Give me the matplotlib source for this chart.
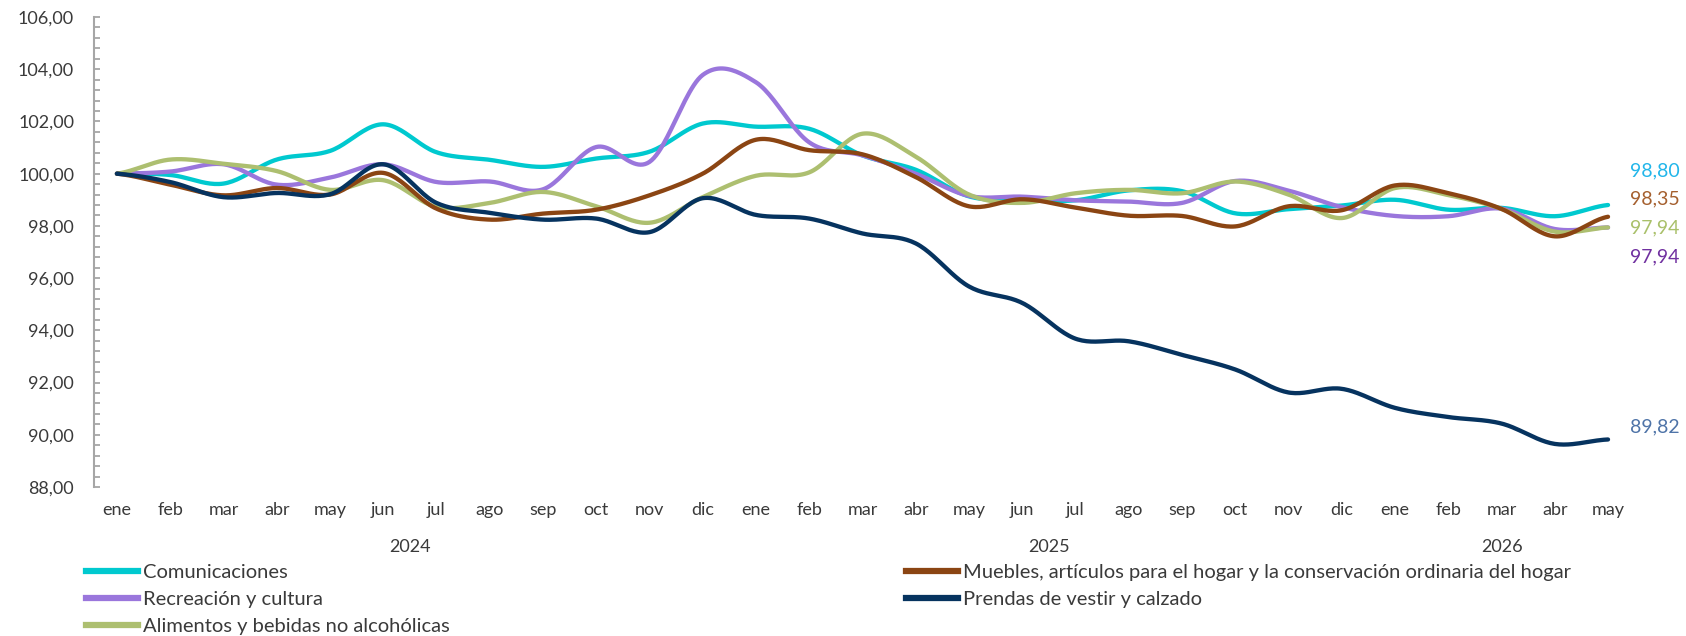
import numpy as np
import matplotlib.pyplot as plt
from matplotlib.lines import Line2D

plt.rcParams["font.family"] = ["Lato", "DejaVu Sans"]

# Categories
months = ["ene", "feb", "mar", "abr", "may", "jun", "jul", "ago", "sep", "oct", "nov", "dic",
          "ene", "feb", "mar", "abr", "may", "jun", "jul", "ago", "sep", "oct", "nov", "dic",
          "ene", "feb", "mar", "abr", "may"]
years = ["2024", "2025", "2026"]
months_per_year = [12, 12, 5]

# Series (index, ene 2024 = 100)
comunicaciones = [100.00, 99.95, 99.62, 100.54, 100.87, 101.89, 100.82, 100.53, 100.26, 100.58,
                  100.84, 101.92, 101.80, 101.72, 100.70, 100.15, 99.13, 99.00, 98.98, 99.36,
                  99.33, 98.48, 98.64, 98.78, 99.00, 98.62, 98.69, 98.37, 98.80]
recreacion = [100.00, 100.08, 100.36, 99.58, 99.85, 100.36, 99.68, 99.70, 99.40, 101.02,
              100.45, 103.78, 103.50, 101.20, 100.70, 100.00, 99.15, 99.12, 98.98, 98.93,
              98.88, 99.72, 99.35, 98.72, 98.38, 98.37, 98.66, 97.88, 97.94]
alimentos = [100.00, 100.54, 100.38, 100.10, 99.38, 99.75, 98.73, 98.88, 99.30, 98.75,
             98.12, 99.10, 99.92, 100.05, 101.53, 100.65, 99.20, 98.88, 99.25, 99.38,
             99.25, 99.70, 99.20, 98.30, 99.45, 99.18, 98.65, 97.78, 97.94]
muebles = [100.00, 99.58, 99.17, 99.45, 99.20, 100.03, 98.66, 98.24, 98.47, 98.62,
           99.17, 100.00, 101.30, 100.90, 100.74, 99.87, 98.75, 99.02, 98.70, 98.39,
           98.38, 97.98, 98.75, 98.60, 99.55, 99.25, 98.65, 97.60, 98.35]
prendas = [100.00, 99.68, 99.10, 99.26, 99.21, 100.36, 98.88, 98.50, 98.24, 98.28,
           97.76, 99.06, 98.42, 98.28, 97.71, 97.33, 95.68, 95.05, 93.68, 93.58,
           93.06, 92.50, 91.62, 91.76, 91.03, 90.68, 90.43, 89.65, 89.82]

names = ["Comunicaciones", "Recreación y cultura", "Alimentos y bebidas no alcohólicas",
         "Muebles, artículos para el hogar y la conservación ordinaria del hogar",
         "Prendas de vestir y calzado"]
series = [comunicaciones, recreacion, alimentos, muebles, prendas]
line_colors = ["#00C9CF", "#9A76DC", "#ADBF70", "#8B4513", "#06335F"]
label_colors = ["#22B6EA", "#7030A0", "#A9C06A", "#A5602F", "#4F74A8"]
label_dy = [1.31, -1.14, 0.0, 0.70, 0.50]   # end-label vertical shift (avoid overlap)


def smooth(y, n=24):
    # Excel-style smoothed line (Catmull-Rom / cubic Hermite)
    y = np.asarray(y, float)
    m = np.empty_like(y)
    m[1:-1] = (y[2:] - y[:-2]) / 2
    m[0] = (y[1] - y[0]) / 2
    m[-1] = (y[-1] - y[-2]) / 2
    xs, ys = [], []
    t = np.linspace(0, 1, n, endpoint=False)
    h00 = 2 * t**3 - 3 * t**2 + 1
    h10 = t**3 - 2 * t**2 + t
    h01 = -2 * t**3 + 3 * t**2
    h11 = t**3 - t**2
    for i in range(len(y) - 1):
        xs.append(i + t)
        ys.append(h00 * y[i] + h10 * m[i] + h01 * y[i + 1] + h11 * m[i + 1])
    xs.append([len(y) - 1])
    ys.append([y[-1]])
    return np.concatenate(xs), np.concatenate(ys)


fig = plt.figure(figsize=(16.86, 6.36), dpi=100)
ax = fig.add_axes([93.5 / 1686, 1 - 487 / 636, (1624 - 93.5) / 1686, (487 - 17) / 636])

for vals, col in zip(series, line_colors):
    sx, sy = smooth(vals)
    ax.plot(sx, sy, color=col, lw=3.1, solid_capstyle="round")

n = len(months)
ax.set_xlim(-0.44, n - 1 + 0.3)
ax.set_ylim(88, 106)

text_col = "#3A3A3A"
ax.set_xticks(range(n))
ax.set_xticklabels(months, fontsize=13, color=text_col)
ax.tick_params(axis="x", length=0, pad=11)

yt = np.arange(88, 106.01, 2)
ax.set_yticks(yt)
ax.set_yticklabels([f"{v:.2f}".replace(".", ",") for v in yt], fontsize=13, color=text_col)
ax.set_yticks(np.arange(88, 106.01, 0.4), minor=True)
ax.tick_params(axis="y", which="both", direction="in", length=4, width=1.3,
               color="#A6A6A6", pad=14)

for side in ["top", "right", "bottom"]:
    ax.spines[side].set_visible(False)
ax.spines["left"].set_color("#A6A6A6")
ax.spines["left"].set_linewidth(1.5)

# year labels under month labels
start = 0
for yr, cnt in zip(years, months_per_year):
    center = start + (cnt - 1) / 2
    ax.annotate(yr, xy=(center, 0), xycoords=("data", "axes fraction"),
                xytext=(0, -43), textcoords="offset points",
                ha="center", va="center", fontsize=13, color=text_col)
    start += cnt

# end-of-series value labels
for vals, col, dy in zip(series, label_colors, label_dy):
    ax.text(n - 1 + 0.42, vals[-1] + dy, f"{vals[-1]:.2f}".replace(".", ","),
            color=col, fontsize=14, va="center", ha="left", clip_on=False)

handles = [Line2D([], [], color=c, lw=4.5) for c in line_colors]
leg_kw = dict(frameon=False, fontsize=14.5, handlelength=2.6, handletextpad=0.25,
              labelspacing=0.5, borderpad=0, borderaxespad=0, labelcolor=text_col)
fig.legend(handles[:3], names[:3], loc="upper left", bbox_to_anchor=(86 / 1686, 1 - 564 / 636), **leg_kw)
fig.legend(handles[3:], names[3:], loc="upper left", bbox_to_anchor=(906 / 1686, 1 - 564 / 636), **leg_kw)

fig.savefig("out.png", dpi=100)
